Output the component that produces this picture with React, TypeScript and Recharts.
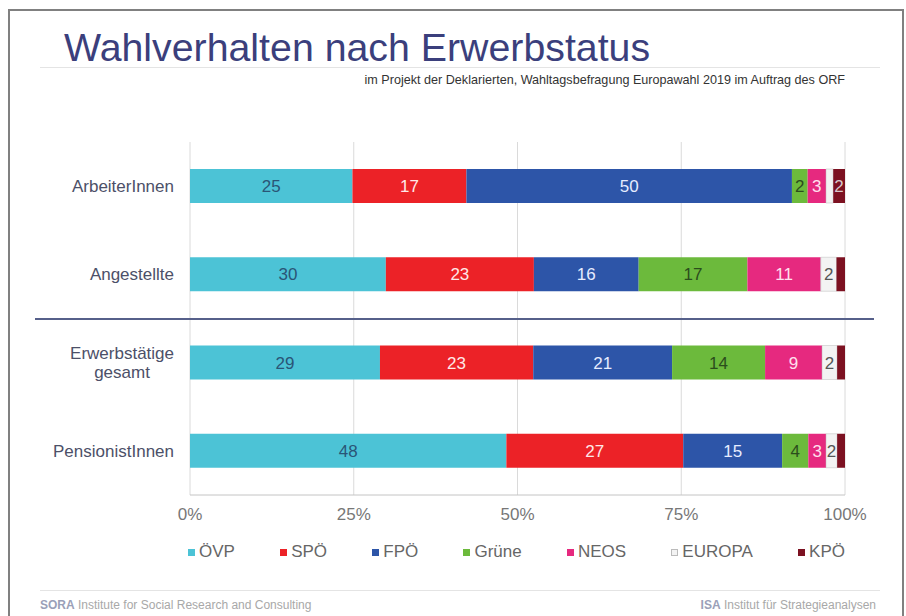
import React from "react";
import { BarChart, Bar, XAxis, YAxis, CartesianGrid, LabelList } from "recharts";

const categories = ["ArbeiterInnen", "Angestellte", "Erwerbstätige\ngesamt", "PensionistInnen"];
const oevp = [24.8, 29.9, 29.0, 48.3];
const spoe = [17.4, 22.6, 23.4, 27.0];
const fpoe = [49.7, 16.0, 21.2, 15.1];
const gruene = [2.4, 16.6, 14.2, 4.0];
const neos = [2.8, 11.2, 8.7, 2.7];
const europa = [1.1, 2.4, 2.3, 1.7];
const kpoe = [1.8, 1.3, 1.2, 1.2];
const xTicks = [0, 25, 50, 75, 100];

const parties = [
  { key: "ÖVP", values: oevp, color: "#4cc3d6", label: "#2a5576", border: "" },
  { key: "SPÖ", values: spoe, color: "#ec2227", label: "#ffe8e8", border: "" },
  { key: "FPÖ", values: fpoe, color: "#2d55a8", label: "#e6ecff", border: "" },
  { key: "Grüne", values: gruene, color: "#6cba3c", label: "#2b4d1c", border: "" },
  { key: "NEOS", values: neos, color: "#e6297f", label: "#ffe0ee", border: "" },
  { key: "EUROPA", values: europa, color: "#f3f3f3", label: "#555555", border: "#bbbbbb" },
  { key: "KPÖ", values: kpoe, color: "#7c1121", label: "#d8c8cc", border: "" },
];

const data = categories.map((c, i) => {
  const row: any = { cat: c };
  parties.forEach((p) => (row[p.key] = p.values[i]));
  return row;
});

const FONT = "'Liberation Sans', Arial, sans-serif";

let ctx: any = null;
function measure(text: string, size: number) {
  if (!ctx) {
    const c = document.createElement("canvas");
    ctx = c.getContext("2d");
  }
  ctx.font = `${size}px 'Liberation Sans', Arial, sans-serif`;
  return ctx.measureText(text).width;
}

const CatTick = (props: any) => {
  const { x, y, payload } = props;
  const lines = String(payload.value).split("\n");
  const size = 17;
  if (lines.length === 1) {
    return (
      <text x={x} y={y} dy="0.35em" textAnchor="end" fontSize={size} fill="#4c5068" fontFamily={FONT}>
        {lines[0]}
      </text>
    );
  }
  const maxW = Math.max(...lines.map((l) => measure(l, size)));
  const cx = x - maxW / 2;
  const lh = 19;
  const start = y - ((lines.length - 1) * lh) / 2;
  return (
    <text textAnchor="middle" fontSize={size} fill="#4c5068" fontFamily={FONT}>
      {lines.map((l, i) => (
        <tspan key={i} x={cx} y={start + i * lh} dy="0.35em">
          {l}
        </tspan>
      ))}
    </text>
  );
};

const makeLabel = (color: string) => (props: any) => {
  const { x, y, width, height, value } = props;
  if (value == null || value < 1.5) return null;
  return (
    <text
      x={x + width / 2}
      y={y + height / 2}
      dy="0.36em"
      textAnchor="middle"
      fontSize={17}
      fill={color}
      fontFamily={FONT}
    >
      {Math.round(value)}
    </text>
  );
};

export default function App() {
  return (
    <div style={{ position: "absolute", left: 0, top: 0, width: 906, height: 616, background: "#fff", overflow: "hidden", fontFamily: FONT }}>
      <div style={{ position: "absolute", left: 8, top: 9, width: 892, height: 640, border: "2px solid #808080" }} />
      <div style={{ position: "absolute", left: 64, top: 28, fontSize: 39.3, lineHeight: 1, color: "#3b3f7c", whiteSpace: "nowrap" }}>
        Wahlverhalten nach Erwerbstatus
      </div>
      <div style={{ position: "absolute", left: 40, top: 67, width: 840, height: 1, background: "#e4e4e4" }} />
      <div style={{ position: "absolute", right: 61, top: 74, fontSize: 12.6, lineHeight: 1, color: "#333", whiteSpace: "nowrap" }}>
        im Projekt der Deklarierten, Wahltagsbefragung Europawahl 2019 im Auftrag des ORF
      </div>
      <div style={{ position: "absolute", left: 0, top: 0 }}>
        <BarChart
          width={906}
          height={616}
          data={data}
          layout="vertical"
          margin={{ top: 142, right: 61, bottom: 91, left: 0 }}
          barSize={34}
        >
          <CartesianGrid horizontal={false} stroke="#dadada" />
          <XAxis
            type="number"
            domain={[0, 100]}
            ticks={xTicks}
            tickFormatter={(v: number) => `${v}%`}
            axisLine={{ stroke: "#c4c4c4" }}
            tickLine={false}
            tickSize={0}
            tickMargin={13}
            height={30}
            tick={{ fontSize: 17, fill: "#777", fontFamily: FONT }}
            interval={0}
          />
          <YAxis
            type="category"
            dataKey="cat"
            width={190}
            axisLine={false}
            tickLine={false}
            tickSize={0}
            tickMargin={16}
            tick={<CatTick />}
            interval={0}
          />
          {parties.map((p) => (
            <Bar
              key={p.key}
              dataKey={p.key}
              stackId="a"
              fill={p.color}
              stroke={p.border || undefined}
              strokeWidth={p.border ? 0.5 : 0}
              isAnimationActive={false}
            >
              <LabelList dataKey={p.key} content={makeLabel(p.label)} />
            </Bar>
          ))}
        </BarChart>
      </div>
      <div style={{ position: "absolute", left: 35, top: 318, width: 839, height: 2, background: "#56608a" }} />
      <div
        style={{
          position: "absolute",
          left: 188,
          top: 542,
          width: 657,
          display: "flex",
          justifyContent: "space-between",
          alignItems: "center",
          fontSize: 17,
          color: "#666",
          lineHeight: "20px",
        }}
      >
        {parties.map((p) => (
          <div key={p.key} style={{ display: "flex", alignItems: "center", whiteSpace: "nowrap" }}>
            <span
              style={{
                display: "inline-block",
                width: 7,
                height: 7,
                background: p.color,
                border: p.border ? `1px solid ${p.border}` : "none",
                boxSizing: "border-box",
                marginRight: 4,
              }}
            />
            {p.key}
          </div>
        ))}
      </div>
      <div style={{ position: "absolute", left: 40, top: 590, width: 840, height: 1, background: "#e4e4e4" }} />
      <div style={{ position: "absolute", left: 40, top: 599, fontSize: 12, lineHeight: 1, color: "#a8a8a8", whiteSpace: "nowrap" }}>
        <b style={{ color: "#9aa0b8" }}>SORA</b> Institute for Social Research and Consulting
      </div>
      <div style={{ position: "absolute", right: 30, top: 599, fontSize: 12, lineHeight: 1, color: "#a8a8a8", whiteSpace: "nowrap" }}>
        <b style={{ color: "#9aa0b8" }}>ISA</b> Institut für Strategieanalysen
      </div>
    </div>
  );
}
